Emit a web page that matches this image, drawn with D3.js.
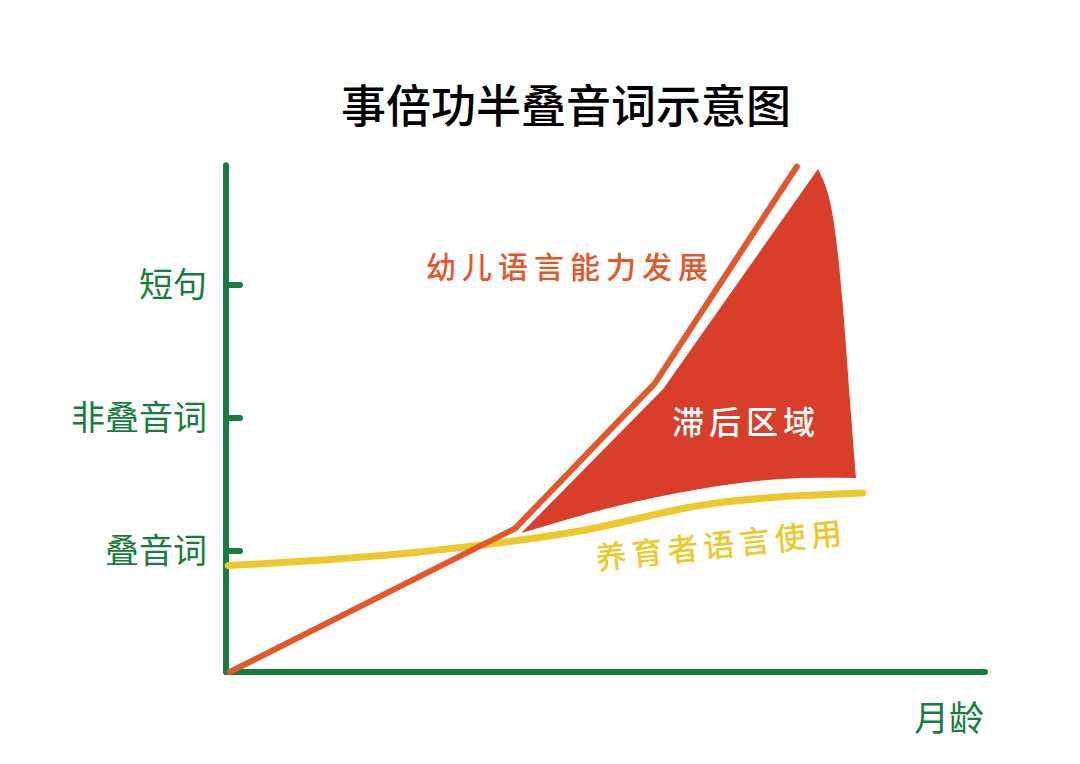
<!DOCTYPE html>
<html><head><meta charset="utf-8">
<script src="https://cdn.jsdelivr.net/npm/d3@7"></script>
<style>body{margin:0;background:#fff}svg{display:block}text{font-family:"Noto Sans CJK SC","Noto Sans",sans-serif}</style>
</head><body>
<svg id="c" width="1080" height="764"></svg>
<script>
// ---- data ----
const title = "事倍功半叠音词示意图";
const yTickValues = [1, 2, 3];
const yTickLabels = ["叠音词", "非叠音词", "短句"];
const xAxisLabel = "月龄";
// child language development (red)
const devMonths = [0.5, 38.1, 56.5, 75.2];
const devLevel  = [0.09, 1.17, 2.26, 3.89];
// caregiver language use (yellow)
const careMonths = [0.3, 24.2, 46.6, 62.8, 83.9];
const careLevel  = [0.89, 0.985, 1.15, 1.346, 1.436];
// lag region boundaries
const lagUpperMonths = [38.9, 57.6, 78.0];
const lagUpperLevel  = [1.135, 2.218, 3.872];
const lagRightMonths = [78.0, 79.8, 81.2, 82.2, 83.0];
const lagRightLevel  = [3.872, 3.564, 2.887, 2.135, 1.549];
const lagLowerMonths = [83.0, 73.0, 62.45, 51.0, 38.9];
const lagLowerLevel  = [1.549, 1.541, 1.466, 1.331, 1.135];
const labelDev = "幼儿语言能力发展";
const labelCare = "养育者语言使用";
const labelLag = "滞后区域";

// ---- drawing ----
const GREEN = "#177c3e", RED = "#e0582b", FILL = "#d83e29", YEL = "#ebc92e";
const svg = d3.select("#c");
const x = d3.scaleLinear().domain([0, 100]).range([226, 985]);
const y = d3.scaleLinear().domain([0, 3]).range([684, 285]);
const yBottom = 0.09, yTop = 3.9;

svg.append("text").attr("x", 566).attr("y", 103).attr("text-anchor", "middle")
  .attr("dominant-baseline", "central").attr("font-size", 45).attr("font-weight", 500)
  .attr("fill", "#000").text(title);

const zip = (a, b) => a.map((v, i) => [x(v), y(b[i])]);

// lag fill
const seg = (pts, curve) => d3.line().curve(curve)(pts);
const upper = seg(zip(lagUpperMonths, lagUpperLevel), d3.curveLinear);
const right = seg(zip(lagRightMonths, lagRightLevel), d3.curveNatural).replace(/^M/, "L");
const lower = seg(zip(lagLowerMonths, lagLowerLevel), d3.curveNatural).replace(/^M/, "L");
svg.append("path").attr("d", upper + right + lower + "Z").attr("fill", FILL);

// axes
const g = svg.append("g").attr("stroke", GREEN).attr("stroke-width", 6).attr("stroke-linecap", "round");
g.append("line").attr("x1", x(0)).attr("x2", x(0)).attr("y1", y(yTop)).attr("y2", y(yBottom));
g.append("line").attr("x1", x(0)).attr("x2", x(100)).attr("y1", y(yBottom)).attr("y2", y(yBottom));
g.selectAll(".tk").data(yTickValues).join("line")
  .attr("x1", x(0)).attr("x2", x(0) + 14).attr("y1", d => y(d)).attr("y2", d => y(d));
svg.selectAll(".tl").data(yTickValues).join("text")
  .attr("x", 207).attr("y", d => y(d) - 3).attr("text-anchor", "end")
  .attr("dominant-baseline", "central").attr("font-size", 34).attr("font-weight", 400)
  .attr("fill", GREEN).text((d, i) => yTickLabels[i]);
svg.append("text").attr("x", 984).attr("y", 715).attr("text-anchor", "end")
  .attr("dominant-baseline", "central").attr("font-size", 35).attr("font-weight", 400)
  .attr("fill", GREEN).text(xAxisLabel);

// lines
svg.append("path").attr("d", d3.line().curve(d3.curveMonotoneX)(zip(careMonths, careLevel)))
  .attr("fill", "none").attr("stroke", YEL).attr("stroke-width", 7).attr("stroke-linecap", "round");
svg.append("path").attr("d", d3.line()(zip(devMonths, devLevel)))
  .attr("fill", "none").attr("stroke", RED).attr("stroke-width", 6)
  .attr("stroke-linecap", "round").attr("stroke-linejoin", "round");

// labels
svg.append("text").attr("x", 570).attr("y", 265).attr("text-anchor", "middle")
  .attr("dominant-baseline", "central").attr("font-size", 30).attr("font-weight", 500)
  .attr("letter-spacing", 6).attr("fill", RED).text(labelDev);
svg.append("text").attr("x", 746).attr("y", 420).attr("text-anchor", "middle")
  .attr("dominant-baseline", "central").attr("font-size", 32).attr("font-weight", 500)
  .attr("letter-spacing", 5).attr("fill", "#fff").text(labelLag);
svg.append("text").attr("transform", "translate(721,543) rotate(-6)").attr("text-anchor", "middle")
  .attr("dominant-baseline", "central").attr("font-size", 31).attr("font-weight", 500)
  .attr("letter-spacing", 5).attr("fill", YEL).text(labelCare);
</script>
</body></html>
